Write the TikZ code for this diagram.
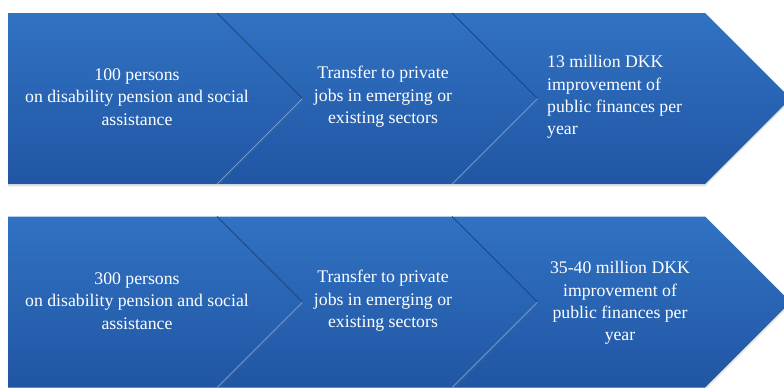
\documentclass[tikz,border=0pt]{standalone}
\usepackage{fontspec}
\setmainfont{Liberation Serif}
\usetikzlibrary{positioning,calc,shadows}
\definecolor{chevtop}{HTML}{3172C2}
\definecolor{chevbot}{HTML}{2056A4}
\definecolor{seamdark}{HTML}{1A4682}
\definecolor{seamlight}{HTML}{80A9E0}

\begin{document}
\begin{tikzpicture}[
    x=1bp, y=-1bp,
    chev/.style={top color=chevtop, bottom color=chevbot, draw=none, drop shadow={shadow xshift=0bp, shadow yshift=-2.5bp, opacity=0.2}},
    txt/.style={text=white, align=center, font=\fontsize{17.8}{22.5}\selectfont, inner sep=0pt},
    seamup/.style={draw=seamdark, line width=0.8bp},
    seamlow/.style={draw=seamlight, line width=0.6bp}
  ]
  \useasboundingbox (0,0) rectangle (784,387);
  \clip (0,0) rectangle (784,387);

  % the two rows of chevrons: \T = top edge, height 171, point depth 85.5
  \foreach \T/\r in {13/1, 216.5/2}{
    \path[chev] (452,\T) -- (705,\T) -- (790.5,\T+85.5) -- (705,\T+171) -- (452,\T+171) -- (537.5,\T+85.5) -- cycle;
    \path[chev] (217,\T) -- (452,\T) -- (537.5,\T+85.5) -- (452,\T+171) -- (217,\T+171) -- (302.5,\T+85.5) -- cycle;
    \path[chev] (8,\T) -- (217,\T) -- (302.5,\T+85.5) -- (217,\T+171) -- (8,\T+171) -- cycle;
    % seams between the arrows
    \draw[seamup] (217,\T) -- (302.5,\T+85.5);
    \draw[seamlow] (302.5,\T+85.5) -- (217,\T+171);
    \draw[seamup] (452,\T) -- (537.5,\T+85.5);
    \draw[seamlow] (537.5,\T+85.5) -- (452,\T+171);
  }

  % texts
  \node[txt] (t11) at (137,97) {100 persons\\on disability pension and social\\assistance};
  \node[txt] (t12) at (383,97) {Transfer to private\\jobs in emerging or\\existing sectors};
  \node[txt, align=left, anchor=west] (t13) at (547,97) {13 million DKK\\improvement of\\public finances per\\year};

  \node[txt] (t21) at (137,301) {300 persons\\on disability pension and social\\assistance};
  \node[txt] (t22) at (383,301) {Transfer to private\\jobs in emerging or\\existing sectors};
  \node[txt] (t23) at (620,303) {35-40 million DKK\\improvement of\\public finances per\\year};

\end{tikzpicture}
\end{document}
